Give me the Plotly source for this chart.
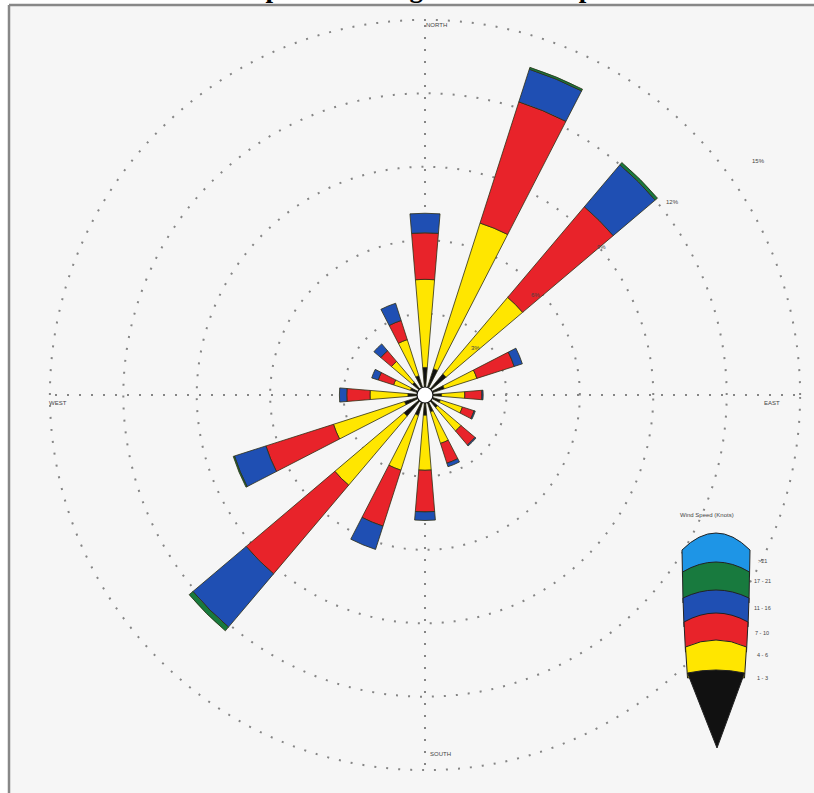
import math
import plotly.graph_objects as go

W, H = 814, 793

# Sixteen compass sectors (degrees clockwise from north)
directions = [0, 22.5, 45, 67.5, 90, 112.5, 135, 157.5,
              180, 202.5, 225, 247.5, 270, 292.5, 315, 337.5]

speed_classes = ["1 - 3", "4 - 6", "7 - 10", "11 - 16", "17 - 21", ">21"]
class_colors = ["#111111", "#ffe600", "#e8232a", "#1f4fb3", "#187a3e", "#1e95e6"]

# Frequency of occurrence (%) for each speed class by direction
pct_1_3   = [0.80, 0.80, 0.80, 0.50, 0.35, 0.33, 0.35, 0.40, 0.50, 0.55, 0.80, 0.55, 0.37, 0.30, 0.35, 0.50]
pct_4_6   = [3.60, 6.25, 4.10, 1.40, 0.95, 0.95, 1.25, 1.35, 2.25, 2.35, 3.70, 3.05, 1.55, 0.72, 1.12, 1.55]
pct_7_10  = [1.90, 5.20, 4.85, 1.60, 0.70, 0.50, 0.75, 0.85, 1.70, 2.40, 4.75, 2.90, 0.95, 0.66, 0.57, 0.82]
pct_11_16 = [0.80, 1.40, 2.25, 0.35, 0.05, 0.05, 0.05, 0.15, 0.35, 1.00, 2.85, 1.35, 0.30, 0.28, 0.37, 0.74]
pct_17_21 = [0.00, 0.08, 0.12, 0.00, 0.00, 0.00, 0.00, 0.00, 0.00, 0.00, 0.20, 0.05, 0.00, 0.00, 0.00, 0.00]
pct_gt_21 = [0.00, 0.00, 0.00, 0.00, 0.00, 0.00, 0.00, 0.00, 0.00, 0.00, 0.00, 0.00, 0.00, 0.00, 0.00, 0.00]

series = [pct_1_3, pct_4_6, pct_7_10, pct_11_16, pct_17_21, pct_gt_21]

ring_values = [3, 6, 9, 12, 15]
ring_labels = ["3%", "6%", "9%", "12%", "15%"]
compass_labels = ["NORTH", "EAST", "SOUTH", "WEST"]
title_text = "Example Rose Diagram - Wind Speed"
legend_title = "Wind Speed (Knots)"

# Layout geometry (pixels)
CX, CY, R = 425, 395, 380
HOLE_PX = 8
RMAX = 15.2


def px(x, y):
    return x / W, 1 - y / H


fig = go.Figure()
for name, vals, col in zip(speed_classes, series, class_colors):
    fig.add_trace(go.Barpolar(
        r=vals, theta=directions, width=[9.5] * len(directions), name=name,
        marker=dict(color=col, line=dict(color="#2e2e14", width=0.8)),
        showlegend=False,
    ))

grid = dict(gridcolor="#858585", griddash="2px,10px", gridwidth=1.6)
fig.update_layout(
    width=W, height=H,
    margin=dict(l=0, r=0, t=0, b=0),
    paper_bgcolor="white",
    polar=dict(
        domain=dict(x=[(CX - R) / W, (CX + R) / W], y=[1 - (CY + R) / H, 1 - (CY - R) / H]),
        hole=HOLE_PX / R,
        bgcolor="rgba(0,0,0,0)",
        barmode="stack",
        radialaxis=dict(range=[0, RMAX], tickvals=ring_values, showticklabels=False,
                        ticks="", showline=False, **grid),
        angularaxis=dict(rotation=90, direction="clockwise", tickvals=[0, 90, 180, 270],
                         showticklabels=False, ticks="", showline=False, **grid),
    ),
)

shapes = []
# page panel and frame
x0, y0 = px(9, 5)
shapes.append(dict(type="rect", xref="paper", yref="paper", x0=x0, y0=0, x1=1, y1=y0,
                   fillcolor="#f6f6f6", line=dict(width=0), layer="below"))
shapes.append(dict(type="line", xref="paper", yref="paper", x0=x0, y0=y0, x1=1, y1=y0,
                   line=dict(color="#888888", width=2.5), layer="above"))
shapes.append(dict(type="line", xref="paper", yref="paper", x0=x0, y0=y0, x1=x0, y1=0,
                   line=dict(color="#888888", width=2.5), layer="above"))
# centre hub
hx0, hy0 = px(CX - HOLE_PX, CY + HOLE_PX)
hx1, hy1 = px(CX + HOLE_PX, CY - HOLE_PX)
shapes.append(dict(type="circle", xref="paper", yref="paper", x0=hx0, y0=hy0, x1=hx1, y1=hy1,
                   fillcolor="white", line=dict(color="#111111", width=1.2)))

# Legend key: stacked curved bands tapering to a point
LCX = 716
band_tops = [(533, 550, 34), (562, 572, 33.5), (590, 598, 33), (613, 622, 32),
             (640, 647, 30.5), (670, 673, 28.5)]
apex = (717, 748)


def arc(xl, xr, ycorner, ymid, reverse=False):
    cx_, cy_ = px(LCX, 2 * ymid - ycorner)
    a = px(xl, ycorner)
    b = px(xr, ycorner)
    if reverse:
        a, b = b, a
    return a, (cx_, cy_), b


legend_order = list(range(len(speed_classes)))[::-1]  # top band = highest class
for k, ci in enumerate(legend_order):
    ymid, ycorner, hw = band_tops[k]
    a, c, b = arc(LCX - hw, LCX + hw, ycorner, ymid)
    path = f"M{a[0]},{a[1]} Q{c[0]},{c[1]} {b[0]},{b[1]} "
    if k + 1 < len(band_tops):
        nmid, ncorner, nhw = band_tops[k + 1]
        a2, c2, b2 = arc(LCX - nhw, LCX + nhw, ncorner + 5, nmid + 5, reverse=True)
        path += f"L{a2[0]},{a2[1]} Q{c2[0]},{c2[1]} {b2[0]},{b2[1]} Z"
    else:
        ax, ay = px(*apex)
        path += f"L{ax},{ay} Z"
    shapes.append(dict(type="path", xref="paper", yref="paper", path=path,
                       fillcolor=class_colors[ci], line=dict(color="#222222", width=1)))

fig.update_layout(shapes=shapes)

ann = []
small = dict(family="Liberation Sans, Arial", size=6, color="#444444")
# compass point labels
compass_pos = [(436, 25), (772, 403), (440, 754), (58, 403)]
for txt, (x, y) in zip(compass_labels, compass_pos):
    ax_, ay_ = px(x, y)
    ann.append(dict(text=txt, x=ax_, y=ay_, xref="paper", yref="paper", showarrow=False,
                    font=small, xanchor="center", yanchor="middle"))
# ring percentage labels, set out beside each ring on the north-east side
ring_label_angle = [47, 48, 50, 52, 55]
ring_label_shift = [-12, -6, 2, 12, 32]
for v, txt, ang, dr in zip(ring_values, ring_labels, ring_label_angle, ring_label_shift):
    rr = HOLE_PX + (R - HOLE_PX) * v / RMAX + dr
    x = CX + rr * math.sin(math.radians(ang))
    y = CY - rr * math.cos(math.radians(ang))
    ax_, ay_ = px(x, y)
    ann.append(dict(text=txt, x=ax_, y=ay_, xref="paper", yref="paper", showarrow=False,
                    font=small, xanchor="center", yanchor="middle"))
# legend labels
label_y = [678, 655, 633, 608, 581, 561]
for name, y in zip(speed_classes, label_y):
    ax_, ay_ = px(762, y)
    ann.append(dict(text=name, x=ax_, y=ay_, xref="paper", yref="paper", showarrow=False,
                    font=dict(family="Liberation Sans, Arial", size=5.5, color="#444444"),
                    xanchor="center", yanchor="middle"))
ax_, ay_ = px(707, 515)
ann.append(dict(text=legend_title, x=ax_, y=ay_, xref="paper", yref="paper", showarrow=False,
                font=small, xanchor="center", yanchor="middle"))
# heading, mostly above the visible page
tx, ty = px(415, 4)
ann.append(dict(text=f"<b>{title_text}</b>", x=tx, y=ty, xref="paper", yref="paper",
                showarrow=False, xanchor="center", yanchor="bottom", borderpad=0,
                font=dict(family="Liberation Serif, Times New Roman", size=27, color="black")))
fig.update_layout(annotations=ann)

fig.write_html("out.html")
